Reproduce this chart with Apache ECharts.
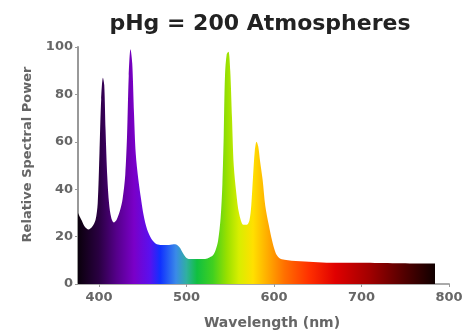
<!DOCTYPE html>
<html><head><meta charset="utf-8">
<script src="https://cdn.jsdelivr.net/npm/echarts@6/dist/echarts.min.js"></script>
<style>html,body{margin:0;padding:0;background:#fff}#c{width:469px;height:335px}</style>
</head><body><div id="c"></div>
<script>
const wavelengths = [376,380,384,388,392,396,398.5,400.5,402.5,404.5,406,407.5,409.5,411.5,414,417,420,424,427,430,432,434,436,438,440,442,445,448,451,455,460,465,470,480,487,492,496,500,505,510,515,520,525,530,533,536,539,541,542.5,544,546,548,550,552,554,557,560,565,569,572,574,576,578,580,582,584,587,590,594,598,602,606,612,620,640,660,680,700,720,740,760,784];
const power = [30,27,24,23,24,27,34,55,78,87,84,65,45,34,28,26,27,31,36,46,62,88,99,93,72,55,44,36,29,23,19,17,16.5,16.5,16.8,15.5,13,11,10.5,10.5,10.5,10.5,11,12,14,18,28,42,62,88,97,98,90,70,50,38,30,25,25,27,33,45,56,60,58,52,44,33,25,18,13,11,10.2,9.8,9.4,9,9,9,8.9,8.8,8.7,8.6,8.5];
const xTicks = [400,500,600,700,800];
const titleText = 'pHg = 200 Atmospheres';
const xName = 'Wavelength (nm)';
const yName = 'Relative Spectral Power';

const spectrum = [
  [376,'#0a000c'],[400,'#2a0042'],[420,'#55008a'],[440,'#7a00c8'],[458,'#5a10ee'],
  [470,'#1030ff'],[488,'#3a8ae8'],[500,'#30b0a0'],[512,'#10c040'],[530,'#40d020'],
  [546,'#98e000'],[560,'#d8ee00'],[576,'#ffe000'],[592,'#ffae00'],[612,'#ff7000'],
  [640,'#ff3000'],[670,'#e00000'],[710,'#a00000'],[750,'#500000'],[784,'#100000']
];
const wMin = wavelengths[0], wMax = wavelengths[wavelengths.length-1];
const stops = spectrum.map(s => ({offset:(s[0]-wMin)/(wMax-wMin), color:s[1]}));
const FONT = 'DejaVu Sans, Liberation Sans, Arial';

const chart = echarts.init(document.getElementById('c'));
chart.setOption({
  animation:false,
  backgroundColor:'#fff',
  title:{text:titleText,left:255,top:8,textAlign:'center',
    textStyle:{fontFamily:FONT,fontWeight:'bold',fontSize:22,color:'#222'}},
  grid:{left:78,right:20,top:47,bottom:50},
  xAxis:{type:'value',min:376,max:800,
    name:xName,nameLocation:'middle',nameGap:32,
    nameTextStyle:{fontFamily:FONT,fontWeight:'bold',fontSize:14,color:'#666',padding:[0,0,0,17]},
    axisLine:{lineStyle:{color:'#aaa',width:2}},
    axisTick:{customValues:xTicks,length:3,lineStyle:{color:'#999'}},
    axisLabel:{customValues:xTicks,margin:7,fontFamily:FONT,fontWeight:'bold',fontSize:13,color:'#666'},
    splitLine:{show:false}},
  yAxis:{type:'value',min:0,max:100,interval:20,
    name:yName,nameLocation:'middle',nameGap:44,
    nameTextStyle:{fontFamily:FONT,fontWeight:'bold',fontSize:13,color:'#666',padding:[0,0,0,22]},
    axisLine:{show:true,lineStyle:{color:'#999',width:2}},
    axisTick:{show:true,length:3,lineStyle:{color:'#999'}},
    axisLabel:{margin:5,fontFamily:FONT,fontWeight:'bold',fontSize:13,color:'#666'},
    splitLine:{show:false}},
  series:[{type:'line',data:wavelengths.map((w,i)=>[w,power[i]]),
    symbol:'none',smooth:0.3,
    lineStyle:{width:0},
    areaStyle:{opacity:1,color:new echarts.graphic.LinearGradient(0,0,1,0,stops)}}]
});
</script></body></html>
